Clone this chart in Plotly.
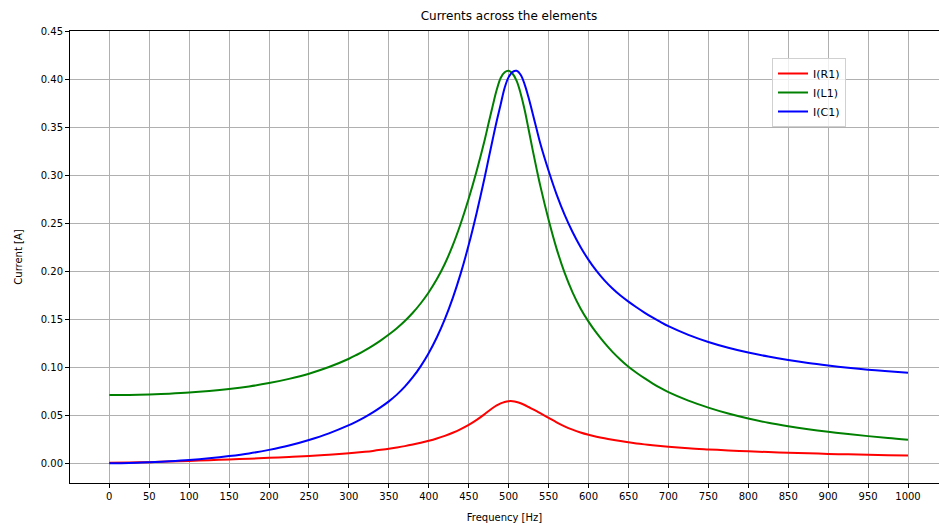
import plotly.graph_objects as go

freq = [0, 25, 50, 75, 100, 125, 150, 175, 200, 225, 250, 275, 300,
        310, 320, 330, 340, 350, 360, 370, 380, 390, 400, 410, 420, 430, 440, 450, 460, 470,
        475, 480, 485, 490, 495, 500, 505, 510, 515, 520, 525, 530, 535, 540,
        550, 560, 570, 580, 590, 600, 610, 620, 630, 640, 650, 660, 670, 680, 690, 700,
        725, 750, 775, 800, 825, 850, 875, 900, 925, 950, 975, 1000]

i_r1 = [0.0005, 0.0008, 0.0012, 0.0018, 0.0025, 0.0032, 0.0040, 0.0048, 0.0057, 0.0066, 0.0077, 0.0090, 0.0105,
        0.0112, 0.0120, 0.0129, 0.0140, 0.0152, 0.0165, 0.0179, 0.0195, 0.0213, 0.0234, 0.0258, 0.0286, 0.0318,
        0.0356, 0.0400, 0.0452, 0.0512,
        0.0545, 0.0576, 0.0603, 0.0624, 0.0639, 0.0647, 0.0647, 0.0639, 0.0625, 0.0607, 0.0586, 0.0564, 0.0542, 0.0519,
        0.0474, 0.0427, 0.0385, 0.0350, 0.0321, 0.0297, 0.0277, 0.0260, 0.0245, 0.0231, 0.0218, 0.0207, 0.0197,
        0.0188, 0.0180, 0.0173,
        0.0157, 0.0145, 0.0134, 0.0125, 0.0117, 0.0110, 0.0104, 0.0098, 0.0093, 0.0089, 0.0085, 0.0081]

i_l1 = [0.0711, 0.0712, 0.0717, 0.0725, 0.0736, 0.0752, 0.0773, 0.0800, 0.0835, 0.0879, 0.0933, 0.1002, 0.1088,
        0.1130, 0.1175, 0.1225, 0.1280, 0.1340, 0.1406, 0.1481, 0.1567, 0.1666, 0.1781, 0.1915, 0.2075, 0.2268,
        0.2496, 0.2756, 0.3046, 0.3366,
        0.3545, 0.3720, 0.3885, 0.4010, 0.4070, 0.4086, 0.4055, 0.3980, 0.3850, 0.3680, 0.3475, 0.3265, 0.3065, 0.2875,
        0.2535, 0.2235, 0.1985, 0.1780, 0.1612, 0.1475, 0.1357, 0.1253, 0.1160, 0.1078, 0.1005, 0.0943, 0.0886,
        0.0833, 0.0784, 0.0740,
        0.0652, 0.0580, 0.0518, 0.0466, 0.0422, 0.0386, 0.0355, 0.0328, 0.0304, 0.0283, 0.0263, 0.0246]

i_c1 = [0.0000, 0.0003, 0.0011, 0.0021, 0.0034, 0.0052, 0.0075, 0.0103, 0.0140, 0.0185, 0.0243, 0.0312, 0.0397,
        0.0437, 0.0481, 0.0530, 0.0585, 0.0645, 0.0715, 0.0798, 0.0896, 0.1012, 0.1149, 0.1310, 0.1499, 0.1720,
        0.1977, 0.2274, 0.2609, 0.2977,
        0.3175, 0.3370, 0.3560, 0.3735, 0.3910, 0.4020, 0.4075, 0.4086, 0.4045, 0.3945, 0.3805, 0.3645, 0.3480, 0.3318,
        0.3045, 0.2800, 0.2589, 0.2408, 0.2252, 0.2118, 0.2003, 0.1904, 0.1819, 0.1746, 0.1683, 0.1624, 0.1569,
        0.1518, 0.1471, 0.1427,
        0.1337, 0.1263, 0.1203, 0.1153, 0.1111, 0.1075, 0.1044, 0.1018, 0.0995, 0.0975, 0.0958, 0.0943]

series = [("I(R1)", i_r1, "#ff0000"), ("I(L1)", i_l1, "#008000"), ("I(C1)", i_c1, "#0000ff")]

fig = go.Figure()
for name, vals, col in series:
    fig.add_trace(go.Scatter(x=freq, y=vals, mode="lines", name=name,
                             line=dict(color=col, width=2, shape="spline", smoothing=1.0)))

W, H = 939, 525
left, top, bottom = 70, 31, 483
px_per_hz = 0.7987
x0 = -(109.3 - left) / px_per_hz
x1 = x0 + (W - left) / px_per_hz

font = dict(family="DejaVu Sans", size=10, color="#000000")

fig.update_layout(
    width=W, height=H,
    margin=dict(l=left, r=0, t=top, b=H - bottom, pad=0),
    paper_bgcolor="white", plot_bgcolor="white",
    font=font,
    title=dict(text="Currents across the elements", x=509 / W, xref="container",
               xanchor="center", y=1 - 16 / H, yref="container", yanchor="middle",
               font=dict(family="DejaVu Sans", size=12, color="#000000")),
    showlegend=True,
    legend=dict(x=(772 - left) / (W - left), y=1 - (58 - top) / (bottom - top),
                xanchor="left", yanchor="top",
                bgcolor="rgba(255,255,255,0.8)", bordercolor="#d0d0d0", borderwidth=1,
                font=dict(family="DejaVu Sans", size=11, color="#000000"),
                itemwidth=30),
)

fig.update_xaxes(range=[x0, x1], tickmode="linear", tick0=0, dtick=50, automargin=False,
                 showgrid=True, gridcolor="#b0b0b0", gridwidth=0.8, zeroline=False,
                 showline=True, linecolor="#000000", linewidth=1, mirror=True,
                 ticks="outside", ticklen=4, tickcolor="#000000",
                 title=dict(text="Frequency [Hz]", standoff=12,
                            font=dict(family="DejaVu Sans", size=10, color="#000000")),
                 tickfont=font)

fig.update_yaxes(range=[-0.0205, 0.45], tickmode="linear", tick0=0, dtick=0.05,
                 tickformat=".2f", automargin=False,
                 showgrid=True, gridcolor="#b0b0b0", gridwidth=0.8, zeroline=False,
                 showline=True, linecolor="#000000", linewidth=1,
                 ticks="outside", ticklen=4, tickcolor="#000000",
                 title=dict(text="Current [A]", standoff=16,
                            font=dict(family="DejaVu Sans", size=10, color="#000000")),
                 tickfont=font)

fig.write_html("out.html", config={"displayModeBar": False},
               post_script="document.body.style.margin='0';document.body.style.overflow='hidden';")
